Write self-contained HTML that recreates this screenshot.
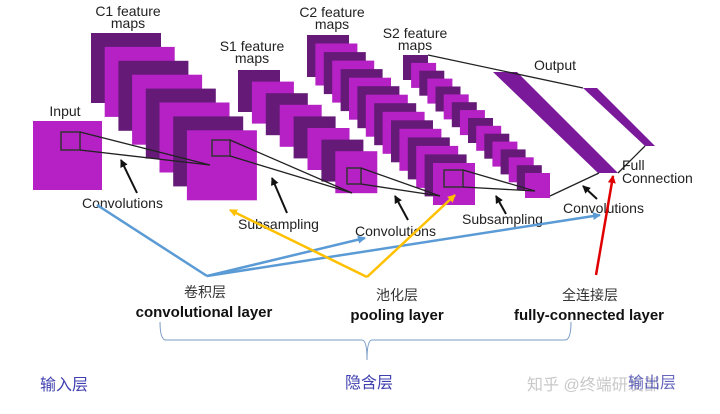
<!DOCTYPE html>
<html><head><meta charset="utf-8"><style>
html,body{margin:0;padding:0;background:#fff;}
svg{display:block;}
text{font-family:"Liberation Sans","Noto Sans CJK SC",sans-serif;}
</style></head><body>
<svg width="720" height="414" viewBox="0 0 720 414" xmlns="http://www.w3.org/2000/svg">
<defs>
<marker id="ab" markerWidth="8" markerHeight="8" refX="7" refY="4" orient="auto" markerUnits="userSpaceOnUse"><path d="M0,0 L8,4 L0,8 z" fill="#5b9bd5"/></marker>
<marker id="ay" markerWidth="8" markerHeight="8" refX="7" refY="4" orient="auto" markerUnits="userSpaceOnUse"><path d="M0,0 L8,4 L0,8 z" fill="#ffc000"/></marker>
<marker id="ar" markerWidth="8" markerHeight="8" refX="7" refY="4" orient="auto" markerUnits="userSpaceOnUse"><path d="M0,0 L8,4 L0,8 z" fill="#e00000"/></marker>
<marker id="ak" markerWidth="8" markerHeight="8" refX="7" refY="4" orient="auto" markerUnits="userSpaceOnUse"><path d="M0,0 L8,4 L0,8 z" fill="#111"/></marker>
</defs>
<g font-size="14" fill="#222" text-anchor="middle">
<text x="128" y="16">C1 feature</text><text x="128" y="28">maps</text>
<text x="252" y="51">S1 feature</text><text x="252" y="63">maps</text>
<text x="332" y="17">C2 feature</text><text x="332" y="29">maps</text>
<text x="415" y="38">S2 feature</text><text x="415" y="50">maps</text>
<text x="555" y="70">Output</text>
<text x="65" y="116">Input</text>
</g>
<!-- Input -->
<rect x="33" y="121" width="69" height="69" fill="#b521c4"/>
<rect x="61" y="132" width="19" height="18" fill="none" stroke="#333" stroke-width="1.5"/>
<!-- C1 -->
<g>
<rect x="91" y="33" width="70" height="70" fill="#651a78"/>
<rect x="104.7" y="46.9" width="70" height="70" fill="#b521c4"/>
<rect x="118.4" y="60.8" width="70" height="70" fill="#651a78"/>
<rect x="132.1" y="74.7" width="70" height="70" fill="#b521c4"/>
<rect x="145.8" y="88.6" width="70" height="70" fill="#651a78"/>
<rect x="159.5" y="102.5" width="70" height="70" fill="#b521c4"/>
<rect x="173.2" y="116.4" width="70" height="70" fill="#651a78"/>
<rect x="186.9" y="130.3" width="70" height="70" fill="#b521c4"/>
</g>
<rect x="212" y="140" width="18" height="16" fill="none" stroke="#333" stroke-width="1.5"/>
<!-- S1 -->
<g>
<rect x="238" y="70" width="42" height="42" fill="#651a78"/>
<rect x="251.9" y="81.6" width="42" height="42" fill="#b521c4"/>
<rect x="265.8" y="93.2" width="42" height="42" fill="#651a78"/>
<rect x="279.7" y="104.8" width="42" height="42" fill="#b521c4"/>
<rect x="293.6" y="116.4" width="42" height="42" fill="#651a78"/>
<rect x="307.5" y="128" width="42" height="42" fill="#b521c4"/>
<rect x="321.4" y="139.6" width="42" height="42" fill="#651a78"/>
<rect x="335.3" y="151.2" width="42" height="42" fill="#b521c4"/>
</g>
<!-- C2 -->
<g>
<rect x="307" y="35" width="42" height="42" fill="#651a78"/>
<rect x="315.4" y="43.5" width="42" height="42" fill="#b521c4"/>
<rect x="323.8" y="52.1" width="42" height="42" fill="#651a78"/>
<rect x="332.2" y="60.6" width="42" height="42" fill="#b521c4"/>
<rect x="340.6" y="69.1" width="42" height="42" fill="#651a78"/>
<rect x="349" y="77.7" width="42" height="42" fill="#b521c4"/>
<rect x="357.4" y="86.2" width="42" height="42" fill="#651a78"/>
<rect x="365.8" y="94.7" width="42" height="42" fill="#b521c4"/>
<rect x="374.2" y="103.2" width="42" height="42" fill="#651a78"/>
<rect x="382.6" y="111.8" width="42" height="42" fill="#b521c4"/>
<rect x="391" y="120.3" width="42" height="42" fill="#651a78"/>
<rect x="399.4" y="128.8" width="42" height="42" fill="#b521c4"/>
<rect x="407.8" y="137.4" width="42" height="42" fill="#651a78"/>
<rect x="416.2" y="145.9" width="42" height="42" fill="#b521c4"/>
<rect x="424.6" y="154.4" width="42" height="42" fill="#651a78"/>
<rect x="433" y="163" width="42" height="42" fill="#b521c4"/>
</g>
<rect x="347" y="168" width="14" height="16" fill="none" stroke="#333" stroke-width="1.5"/>
<rect x="444" y="170" width="19" height="17" fill="none" stroke="#333" stroke-width="1.5"/>
<!-- S2 -->
<g>
<rect x="403" y="55" width="25" height="25" fill="#651a78"/>
<rect x="411.1" y="62.9" width="25" height="25" fill="#b521c4"/>
<rect x="419.3" y="70.7" width="25" height="25" fill="#651a78"/>
<rect x="427.4" y="78.6" width="25" height="25" fill="#b521c4"/>
<rect x="435.5" y="86.5" width="25" height="25" fill="#651a78"/>
<rect x="443.7" y="94.4" width="25" height="25" fill="#b521c4"/>
<rect x="451.8" y="102.2" width="25" height="25" fill="#651a78"/>
<rect x="459.9" y="110.1" width="25" height="25" fill="#b521c4"/>
<rect x="468" y="118" width="25" height="25" fill="#651a78"/>
<rect x="476.2" y="125.8" width="25" height="25" fill="#b521c4"/>
<rect x="484.3" y="133.7" width="25" height="25" fill="#651a78"/>
<rect x="492.4" y="141.6" width="25" height="25" fill="#b521c4"/>
<rect x="500.6" y="149.4" width="25" height="25" fill="#651a78"/>
<rect x="508.7" y="157.3" width="25" height="25" fill="#b521c4"/>
<rect x="516.8" y="165.2" width="25" height="25" fill="#651a78"/>
<rect x="525" y="173" width="25" height="25" fill="#b521c4"/>
</g>
<!-- Output -->
<polygon points="493,72 517,72 618,173 598,173" fill="#7a1a9a"/>
<polygon points="583,88 597,88 655,146 645,146" fill="#7a1a9a"/>
<!-- cone lines -->
<g stroke="#222" stroke-width="1.3" fill="none">
<line x1="80" y1="132" x2="210" y2="165"/><line x1="80" y1="150" x2="210" y2="165"/>
<line x1="230" y1="140" x2="352" y2="193"/><line x1="230" y1="156" x2="352" y2="193"/>
<line x1="361" y1="168" x2="440" y2="196"/><line x1="361" y1="184" x2="440" y2="196"/>
<line x1="463" y1="170" x2="535" y2="191"/><line x1="463" y1="187" x2="535" y2="191"/>
<line x1="428" y1="55" x2="583" y2="88"/>
<line x1="550" y1="196" x2="599" y2="173"/>
<line x1="618" y1="173" x2="645" y2="146"/>
</g>
<!-- black arrows -->
<g stroke="#111" stroke-width="2" marker-end="url(#ak)">
<line x1="137" y1="193" x2="121" y2="160"/>
<line x1="287" y1="213" x2="272" y2="178"/>
<line x1="408" y1="220" x2="395" y2="196"/>
<line x1="506" y1="214" x2="496" y2="196"/>
<line x1="597" y1="199" x2="583" y2="186"/>
</g>
<g font-size="14" fill="#222">
<text x="82" y="208">Convolutions</text>
<text x="238" y="229">Subsampling</text>
<text x="355" y="236">Convolutions</text>
<text x="462" y="224">Subsampling</text>
<text x="563" y="213">Convolutions</text>
<text x="622" y="170">Full</text>
<text x="622" y="183">Connection</text>
</g>
<!-- colored arrows -->
<g stroke-width="2.5" fill="none">
<line x1="97" y1="205" x2="207" y2="276" stroke="#5b9bd5"/>
<line x1="207" y1="276" x2="365" y2="238" stroke="#5b9bd5" marker-end="url(#ab)"/>
<line x1="207" y1="276" x2="600" y2="215" stroke="#5b9bd5" marker-end="url(#ab)"/>
<line x1="367" y1="277" x2="230" y2="210" stroke="#ffc000" marker-end="url(#ay)"/>
<line x1="367" y1="277" x2="455" y2="195" stroke="#ffc000" marker-end="url(#ay)"/>
<line x1="596" y1="275" x2="613" y2="176" stroke="#e00000" marker-end="url(#ar)"/>
</g>
<!-- bottom labels -->
<g text-anchor="middle">
<text x="205" y="297" font-size="14" fill="#333">卷积层</text>
<text x="204" y="317" font-size="15" font-weight="bold" fill="#111">convolutional layer</text>
<text x="397" y="300" font-size="14" fill="#333">池化层</text>
<text x="397" y="320" font-size="15" font-weight="bold" fill="#111">pooling layer</text>
<text x="590" y="300" font-size="14" fill="#333">全连接层</text>
<text x="589" y="320" font-size="15" font-weight="bold" fill="#111">fully-connected layer</text>
</g>
<path d="M160,322 Q160,340 166,340 L362,340 Q367,340 367,360 Q367,340 372,340 L565,340 Q571,340 571,322" fill="none" stroke="#7a9cc6" stroke-width="1"/>
<g font-size="16" fill="#4040b0">
<text x="40" y="390">输入层</text>
<text x="345" y="388">隐含层</text>
</g>
<text x="527" y="390" font-size="16" fill="#c8c8c8">知乎 @终端研发部</text>
<text x="628" y="388" font-size="16" fill="#4040b0" opacity="0.8">输出层</text>
</svg>
</body></html>
